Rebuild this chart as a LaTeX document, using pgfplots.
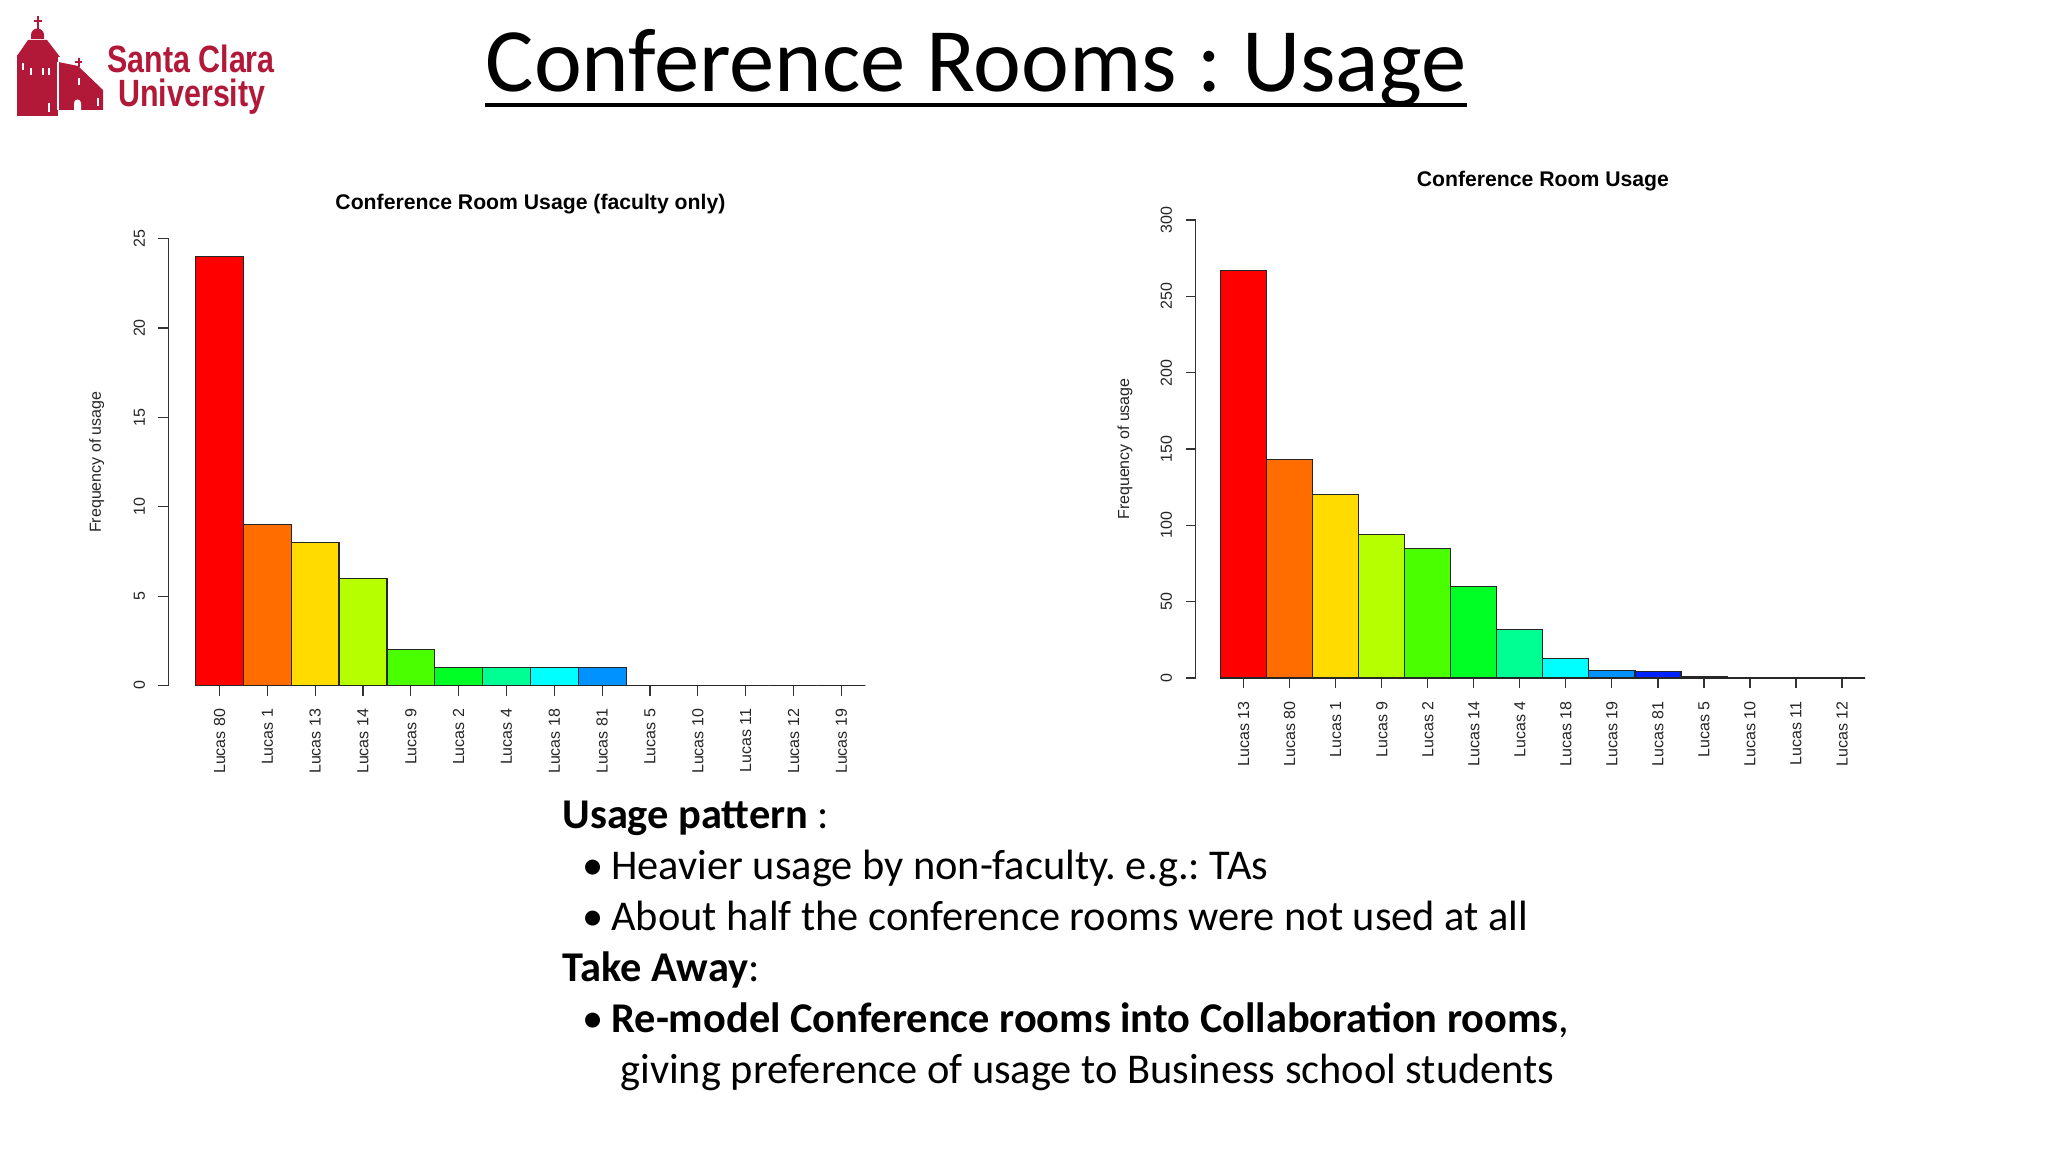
\documentclass[border=0pt]{standalone}
\usepackage{pgfplots}
\pgfplotsset{compat=1.18}
\usepackage{fontspec}
\setmainfont{Liberation Sans}
\newfontfamily\calibri{Carlito}
\newfontfamily\logofont[FakeStretch=0.8]{Liberation Sans}
\frenchspacing

\definecolor{scu}{RGB}{178,24,56}
% R rainbow(14)
\definecolor{c0}{HTML}{FF0000}
\definecolor{c1}{HTML}{FF6D00}
\definecolor{c2}{HTML}{FFDB00}
\definecolor{c3}{HTML}{B6FF00}
\definecolor{c4}{HTML}{49FF00}
\definecolor{c5}{HTML}{00FF24}
\definecolor{c6}{HTML}{00FF92}
\definecolor{c7}{HTML}{00FFFF}
\definecolor{c8}{HTML}{0092FF}
\definecolor{c9}{HTML}{0024FF}
\definecolor{c10}{HTML}{4900FF}
\definecolor{c11}{HTML}{B600FF}
\definecolor{c12}{HTML}{FF00DB}
\definecolor{c13}{HTML}{FF006D}

\newcommand\rbar[3]{\addplot[fill=#1] coordinates {(#2,#3)};}

\tikzset{rtitle/.style={font=\bfseries\fontsize{10.6}{12}\selectfont, anchor=base}}
\pgfplotsset{
  rplot/.style={
    scale only axis, anchor=south west, clip=false,
    ymin=0, xmax=13.5,
    axis y line*=left, axis x line*=bottom,
    x axis line style={draw=none},
    y axis line style={draw=black!80, line width=0.6pt},
    tick align=outside, major tick length=5pt,
    tick style={draw=black!80, line width=0.6pt},
    xtick={0,...,13},
    xticklabel style={yshift=-6.5pt, rotate=90, anchor=east, inner sep=0pt},
    yticklabel style={xshift=-6.5pt, rotate=90, anchor=south, inner sep=0pt},
    tick label style={font=\fontsize{8}{9}\selectfont, text=black!85},
    /pgf/number format/assume math mode=true,
    every axis y label/.style={at={(axis description cs:#1,0.5)}, rotate=90,
      anchor=center, font=\fontsize{8}{9}\selectfont, text=black!85},
    ylabel={Frequency of usage},
    every axis plot/.append style={ybar, bar width=1, bar shift=0pt,
      draw=black!85, line width=0.6pt},
  },
}

\begin{document}
\begin{tikzpicture}[x=0.5pt,y=0.5pt]
\fill[white] (0,0) rectangle (2048,1152);
\path[use as bounding box] (0,0) rectangle (2048,1152);

% page decoration, in pixel coordinates from the top-left corner
\begin{scope}[shift={(0,1152)}, yscale=-1]
\begin{scope}[scu]
  \fill (36.5,16) rectangle (39,29);
  \fill (34,20) rectangle (41.5,22.5);
  \fill (31,39) -- (31,35) arc[start angle=180, end angle=360, radius=6.5] -- (44,39) -- cycle;
  \fill (17,56) -- (28,40) -- (47,40) -- (60,57) -- cycle;
  \fill (17,55) rectangle (58,116);
  \fill (58,62) -- (78,66) -- (103,90) -- (103,110) -- (58,110) -- cycle;
  \fill (77.5,58) rectangle (79.5,67);
  \fill (75,61) rectangle (82,63);
\end{scope}
\fill[white] (22,63) rectangle (23.5,70);
\fill[white] (30,68) rectangle (31.5,75);
\fill[white] (42,68) rectangle (43.5,75);
\fill[white] (48,68) rectangle (49.5,75);
\fill[white] (48,103) rectangle (49.5,112);
\fill[white] (78,78) rectangle (79.5,85);
\fill[white] (97,98) rectangle (98.5,106);
\draw[white, line width=0.6pt] (58,62) -- (58,110);
\fill[white] (74,110) -- (74,103) arc[start angle=180, end angle=360, radius=3.5] -- (81,110) -- cycle;
\node[anchor=base west, inner sep=0pt, text=scu, font=\logofont\bfseries\fontsize{19}{20}\selectfont] at (107,73) {Santa Clara};
\node[anchor=base west, inner sep=0pt, text=scu, font=\logofont\bfseries\fontsize{19}{20}\selectfont] at (118,107) {University};

% slide title
\node (T) [anchor=base, inner sep=0pt, font=\calibri\fontsize{45.3}{50}\selectfont] at (976,92) {Conference Rooms : Usage};
\draw[line width=2pt] ([shift={(0,12.6)}]T.base west) -- ([shift={(0,12.6)}]T.base east);

% body text
\begin{scope}[every node/.style={anchor=base west, inner sep=0pt, font=\calibri\fontsize{21.2}{25}\selectfont}]
\node at (562,828) {\textbf{Usage pattern} :};
\node at (582,879) {•};
\node at (611,879) {Heavier usage by non-faculty. e.g.: TAs};
\node at (582,930) {•};
\node at (611,930) {About half the conference rooms were not used at all};
\node at (562,981) {\textbf{Take Away}:};
\node at (582,1032) {•};
\node at (611,1032) {\textbf{Re-model Conference rooms into Collaboration rooms},};
\node at (620,1083) {giving preference of usage to Business school students};
\end{scope}
\end{scope}

% left chart
\begin{axis}[rplot=-0.103, at={(84.25pt,233.25pt)}, width=348.4pt, height=223.4pt,
  xmin=-1.066, ymax=25, ytick={0,5,...,25},
  xticklabels={Lucas 80,Lucas 1,Lucas 13,Lucas 14,Lucas 9,Lucas 2,Lucas 4,Lucas 18,Lucas 81,Lucas 5,Lucas 10,Lucas 11,Lucas 12,Lucas 19}]
\rbar{c0}{0}{24}
\rbar{c1}{1}{9}
\rbar{c2}{2}{8}
\rbar{c3}{3}{6}
\rbar{c4}{4}{2}
\rbar{c5}{5}{1}
\rbar{c6}{6}{1}
\rbar{c7}{7}{1}
\rbar{c8}{8}{1}
\rbar{c9}{9}{0}
\rbar{c10}{10}{0}
\rbar{c11}{11}{0}
\rbar{c12}{12}{0}
\rbar{c13}{13}{0}
\node[rtitle, yshift=14.85pt] at (axis cs:6.5,25) {Conference Room Usage (faculty only)};
\end{axis}

% right chart
\begin{axis}[rplot=-0.1053, at={(597.75pt,237pt)}, width=334.75pt, height=229pt,
  xmin=-1.047, ymax=300, ytick={0,50,...,300},
  xticklabels={Lucas 13,Lucas 80,Lucas 1,Lucas 9,Lucas 2,Lucas 14,Lucas 4,Lucas 18,Lucas 19,Lucas 81,Lucas 5,Lucas 10,Lucas 11,Lucas 12}]
\rbar{c0}{0}{267}
\rbar{c1}{1}{143}
\rbar{c2}{2}{120}
\rbar{c3}{3}{94}
\rbar{c4}{4}{85}
\rbar{c5}{5}{60}
\rbar{c6}{6}{32}
\rbar{c7}{7}{13}
\rbar{c8}{8}{5}
\rbar{c9}{9}{4}
\rbar{c10}{10}{1}
\rbar{c11}{11}{0}
\rbar{c12}{12}{0}
\rbar{c13}{13}{0}
\node[rtitle, yshift=16.7pt] at (axis cs:6.5,300) {Conference Room Usage};
\end{axis}
\end{tikzpicture}
\end{document}
